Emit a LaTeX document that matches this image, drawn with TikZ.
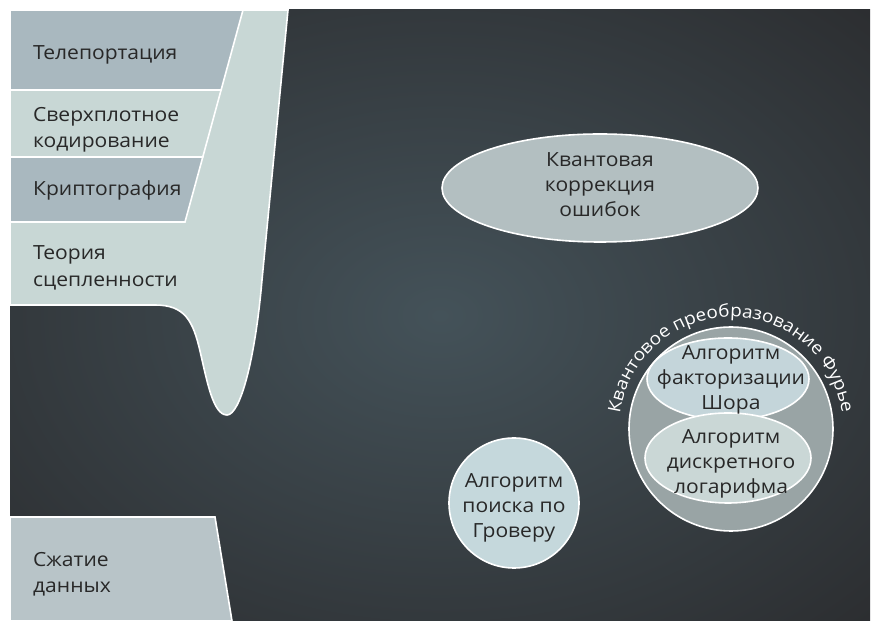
\documentclass[tikz,border=0pt]{standalone}
\usepackage{fontspec}
\setmainfont{Open Sans}[FakeStretch=1.08]
\usetikzlibrary{shapes.geometric,decorations.text}
\definecolor{bgin}{RGB}{68,82,89}
\definecolor{bgout}{RGB}{34,31,32}
\definecolor{band}{RGB}{169,184,191}
\definecolor{funnel}{RGB}{200,215,213}
\definecolor{bandlow}{RGB}{184,196,200}
\definecolor{qecfill}{RGB}{179,191,193}
\definecolor{groverfill}{RGB}{197,216,220}
\definecolor{qftfill}{RGB}{153,164,165}
\definecolor{shorfill}{RGB}{196,213,218}
\definecolor{logfill}{RGB}{202,215,214}
\definecolor{txt}{RGB}{40,40,40}
\pgfdeclareradialshading{bgglow}{\pgfpoint{0bp}{0bp}}{color(0bp)=(bgin); color(50bp)=(bgout)}
\begin{document}
\begin{tikzpicture}[x=1pt,y=1pt,
    blob/.style={draw=white, line width=1.6pt},
    lbl/.style={font=\fontsize{19.5}{26.5}\selectfont, text=txt, inner sep=0pt, align=left},
    ctr/.style={font=\fontsize{19.5}{25}\selectfont, text=txt, inner sep=0pt, align=center}]
    \useasboundingbox (0,0) rectangle (871,621);
    \fill[white] (0,0) rectangle (871,621);
    % background
    \shade[shading=bgglow] (10,0) rectangle (870,611);
    % left funnel and bands
    \draw[blob, fill=funnel] (10,611) -- (288,611) -- (262,341)
        .. controls (255,260) and (240,206) .. (227,206)
        .. controls (213,206) and (207,240) .. (200,270)
        .. controls (193,300) and (185,316) .. (155,316) -- (10,316) -- cycle;
    \draw[blob, fill=band] (10,611) -- (243,611) -- (221.1,531) -- (10,531) -- cycle;
    \draw[blob, fill=funnel] (10,531) -- (221.1,531) -- (202.8,464) -- (10,464) -- cycle;
    \draw[blob, fill=band] (10,464) -- (202.8,464) -- (185,399) -- (10,399) -- cycle;
    \draw[blob, fill=bandlow] (10,104) -- (215,104) -- (232,0) -- (10,0) -- cycle;
    \node[lbl, anchor=base west] (tele) at (33,561.5) {Телепортация};
    \node[lbl, anchor=west] (dense) at (33,491) {Сверхплотное\\кодирование};
    \node[lbl, anchor=base west] (crypto) at (33,425) {Криптография};
    \node[lbl, anchor=west] (entangle) at (33,353) {Теория\\сцепленности};
    \node[lbl, anchor=west] (compress) at (33,47) {Сжатие\\данных};
    % error correction, Grover
    \node[blob, ellipse, fill=qecfill, inner sep=0pt, minimum width=316pt, minimum height=108pt] (qec) at (600,433) {};
    \node[ctr] (qectext) at (600,436) {Квантовая\\коррекция\\ошибок};
    \node[blob, circle, fill=groverfill, inner sep=0pt, minimum size=130pt] (grover) at (514,118) {};
    \node[ctr] (grovertext) at (514,113) {Алгоритм\\поиска по\\Гроверу};
    % Fourier circle
    \node[blob, circle, fill=qftfill, inner sep=0pt, minimum size=204pt] (qft) at (731,192) {};
    \node[blob, ellipse, fill=shorfill, inner sep=0pt, minimum width=162pt, minimum height=82pt] (shor) at (728,242) {};
    \node[blob, ellipse, fill=logfill, inner sep=0pt, minimum width=166pt, minimum height=90pt] (dlog) at (728,163) {};
    \node[ctr] (shortext) at (731,241) {Алгоритм\\факторизации\\Шора};
    \node[ctr] (dlogtext) at (731,157) {Алгоритм\\дискретного\\логарифма};
    \path[decorate, decoration={text along path, text align=center, text color=white,
        text={|\fontsize{17.5}{17.5}\selectfont|Квантовое преобразование Фурье}}]
        (qft.center) ++(200:112) arc[start angle=200, end angle=-20, radius=112];
\end{tikzpicture}
\end{document}
